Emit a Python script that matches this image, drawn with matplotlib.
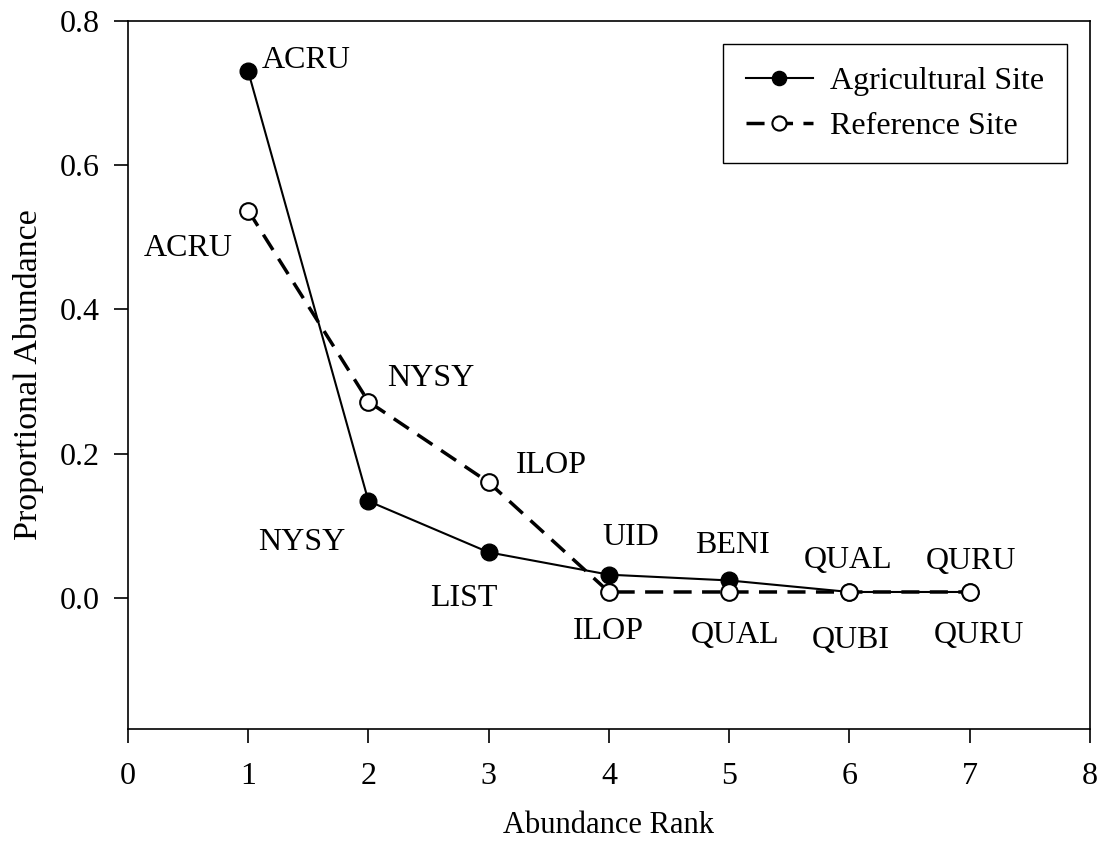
import matplotlib
matplotlib.use("Agg")
import matplotlib.pyplot as plt

plt.rcParams["font.family"] = ["Liberation Serif", "DejaVu Serif"]
plt.rcParams["font.size"] = 23

rank = [1, 2, 3, 4, 5, 6, 7]
agri = [0.730, 0.134, 0.063, 0.032, 0.024, 0.008, 0.008]
ref = [0.537, 0.272, 0.160, 0.008, 0.008, 0.008, 0.008]
agri_species = ["ACRU", "NYSY", "LIST", "UID", "BENI", "QUAL", "QURU"]
ref_species = ["ACRU", "NYSY", "ILOP", "ILOP", "QUAL", "QUBI", "QURU"]

# label offsets in pixels (dx, dy) from each point
agri_off = [(58, 14), (-67, -38), (-25, -43), (22, 41), (3, 38), (-1, 35), (1, 34)]
ref_off = [(-60, -34), (62, 27), (63, 20), (-1, -36), (6, -40), (1, -45), (9, -40)]

fig = plt.figure(figsize=(11.05, 8.56), dpi=100)
ax = fig.add_axes([0.1158, 0.1484, 0.8706, 0.8271])

ax.plot(rank, agri, color="black", lw=1.5, marker="o", ms=12,
        mfc="black", mec="black", label="Agricultural Site", zorder=3)
ax.plot(rank, ref, color="black", lw=2.5, ls=(0, (5.2, 3)), marker="o", ms=12,
        mfc="white", mec="black", mew=1.5, label="Reference Site", zorder=4)

for x, y, s, (dx, dy) in zip(rank, agri, agri_species, agri_off):
    ax.annotate(s, (x, y), xytext=(dx, dy), textcoords="offset pixels",
                ha="center", va="center_baseline")
for x, y, s, (dx, dy) in zip(rank, ref, ref_species, ref_off):
    ax.annotate(s, (x, y), xytext=(dx, dy), textcoords="offset pixels",
                ha="center", va="center_baseline")

ax.set_xlim(0, 8)
ax.set_ylim(-0.182, 0.8)
ax.set_xticks(range(0, 9))
ax.set_yticks([0.0, 0.2, 0.4, 0.6, 0.8])
ax.set_yticklabels(["0.0", "0.2", "0.4", "0.6", "0.8"])
ax.tick_params(direction="out", length=10, width=1.2)
ax.tick_params(axis="x", pad=14)
ax.tick_params(axis="y", pad=10)
for sp in ax.spines.values():
    sp.set_linewidth(1.2)

ax.set_xlabel("Abundance Rank", fontsize=22, labelpad=14)
ax.set_ylabel("Proportional Abundance", fontsize=24.5, labelpad=12)

leg = ax.legend(loc="upper right", fancybox=False, edgecolor="black",
                framealpha=1, borderaxespad=0.72, handlelength=2.1,
                handletextpad=0.55, borderpad=0.7, labelspacing=0.5,
                markerscale=0.85, fontsize=23)
leg.get_frame().set_linewidth(1.0)

fig.savefig("out.png", dpi=100)
